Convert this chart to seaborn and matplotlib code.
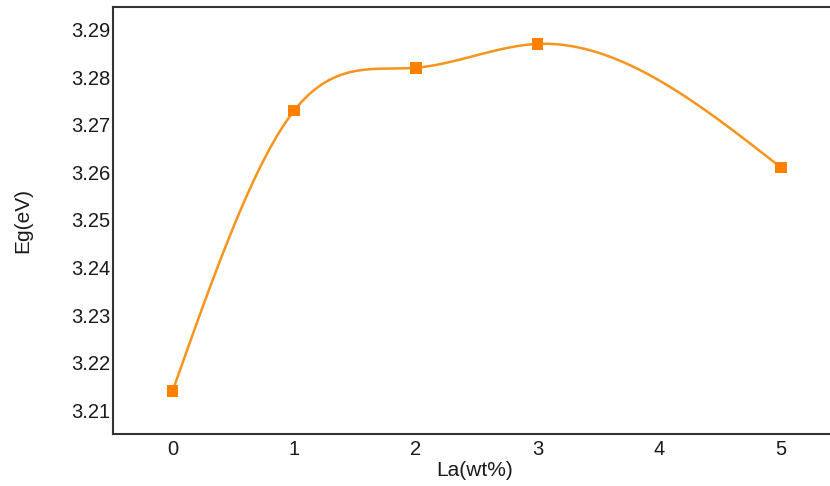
import numpy as np
import pandas as pd
import matplotlib
matplotlib.use("Agg")
import matplotlib.pyplot as plt
import seaborn as sns

la = [0, 1, 2, 3, 5]
eg = [3.214, 3.273, 3.282, 3.287, 3.261]
xticks = [0, 1, 2, 3, 4, 5]
yticks = [3.21, 3.22, 3.23, 3.24, 3.25, 3.26, 3.27, 3.28, 3.29]


def natural_spline(x, y, n=400):
    x = np.asarray(x, float); y = np.asarray(y, float)
    k = len(x); h = np.diff(x)
    A = np.zeros((k, k)); r = np.zeros(k)
    A[0, 0] = A[-1, -1] = 1
    for i in range(1, k - 1):
        A[i, i - 1] = h[i - 1]; A[i, i] = 2 * (h[i - 1] + h[i]); A[i, i + 1] = h[i]
        r[i] = 6 * ((y[i + 1] - y[i]) / h[i] - (y[i] - y[i - 1]) / h[i - 1])
    M = np.linalg.solve(A, r)
    xs = np.linspace(x[0], x[-1], n)
    idx = np.clip(np.searchsorted(x, xs) - 1, 0, k - 2)
    x0, x1 = x[idx], x[idx + 1]; hh = x1 - x0
    ys = (M[idx] * (x1 - xs) ** 3 / (6 * hh) + M[idx + 1] * (xs - x0) ** 3 / (6 * hh)
          + (y[idx] / hh - M[idx] * hh / 6) * (x1 - xs)
          + (y[idx + 1] / hh - M[idx + 1] * hh / 6) * (xs - x0))
    return xs, ys


sns.set_style("white")
plt.rcParams['font.family'] = ['Liberation Sans', 'DejaVu Sans']

fig = plt.figure(figsize=(8.30, 4.86), dpi=100)
ax = fig.add_axes([0.136, 0.107, 0.871, 0.879])

xs, ys = natural_spline(la, eg)
curve = pd.DataFrame({"x": xs, "y": ys})
pts = pd.DataFrame({"La": la, "Eg": eg})
sns.lineplot(data=curve, x="x", y="y", ax=ax, color="#F7941D", linewidth=1.8, sort=False)
sns.scatterplot(data=pts, x="La", y="Eg", ax=ax, marker="s", s=70, color="#FF8000",
                edgecolor="none", zorder=3)

ax.set_xlim(-0.49, 5.45)
ax.set_ylim(3.205, 3.2948)
ax.set_xticks(xticks)
ax.set_xticklabels([str(t) for t in xticks])
ax.set_yticks(yticks)
ax.set_yticklabels([f"{t:.2f}" for t in yticks])
ax.tick_params(axis="both", length=0, labelsize=14.5, colors="#1a1a1a")
ax.tick_params(axis="y", pad=2)
ax.tick_params(axis="x", pad=4)
for s in ["left", "top", "bottom", "right"]:
    ax.spines[s].set_color("#333333")
    ax.spines[s].set_linewidth(1.5)
ax.set_xlabel("La(wt%)", fontsize=15, color="#1a1a1a", labelpad=2)
ax.set_ylabel("Eg(eV)", fontsize=15, color="#1a1a1a", labelpad=28)

fig.savefig("out.png", dpi=100)
